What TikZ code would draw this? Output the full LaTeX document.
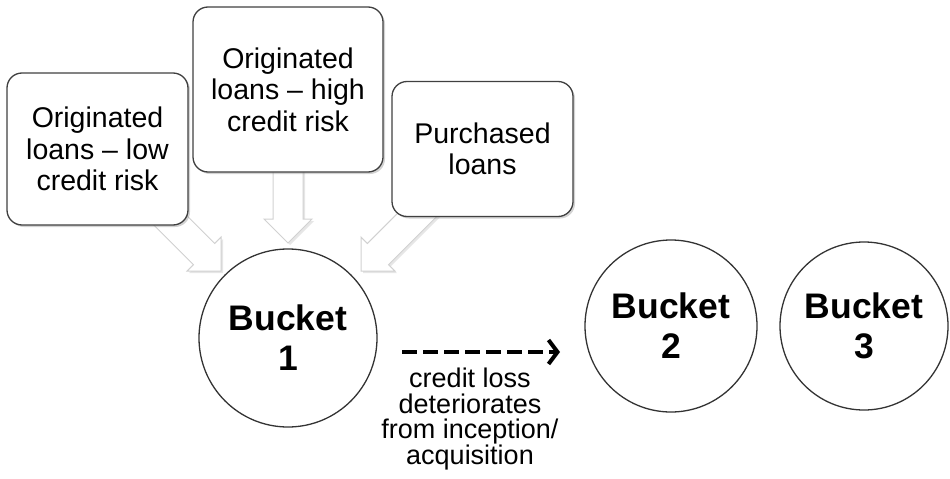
\documentclass[tikz,border=0pt]{standalone}
\usepackage{fontspec}
\setmainfont{Liberation Sans}
\usetikzlibrary{arrows.meta,shadows}
\tikzset{
  loanbox/.style={draw=black!75, line width=1.3pt, rounded corners=15pt, fill=white,
    align=center, inner sep=0pt, font=\fontsize{28.5}{31.5}\selectfont,
    drop shadow={opacity=0.35, shadow xshift=2pt, shadow yshift=-2pt}},
  bucket/.style={circle, draw=black!80, line width=1.3pt, fill=white, align=center,
    inner sep=0pt, font=\fontsize{35.5}{40}\selectfont\bfseries},
  blockarr/.style={draw=black!18, line width=1pt, fill=white, line join=miter,
    drop shadow={opacity=0.2, shadow xshift=2pt, shadow yshift=-2pt}},
  dasharrow/.style={line width=4pt, dash pattern=on 15pt off 6pt,
    -{Straight Barb[length=9pt,width=24pt,line width=4pt]}},
  note/.style={align=center, inner sep=0pt, font=\fontsize{27}{25.5}\selectfont}
}
% block arrow: #1 tip, #2 angle, #3 length
\newcommand\blockarrow[3]{%
  \draw[blockarr, shift={#1}, rotate=#2]
    (0,0) -- (-24,24) -- (-24,15) -- (-#3,15) -- (-#3,-15) -- (-24,-15) -- (-24,-24) -- cycle;}
\begin{document}
\begin{tikzpicture}[x=1pt,y=-1pt]
\useasboundingbox (0,0) rectangle (950,479);
% block arrows (drawn first, boxes cover their tails)
\coordinate (tipL) at (221,271);
\coordinate (tipM) at (288,243);
\coordinate (tipR) at (361,271);
\blockarrow{(tipL)}{-45}{110}
\blockarrow{(tipM)}{-90}{83}
\blockarrow{(tipR)}{-135}{100}
% loan boxes
\node[loanbox, minimum width=181pt, minimum height=152pt] (low) at (97.5,149)
  {Originated\\loans -- low\\credit risk};
\node[loanbox, minimum width=190pt, minimum height=165pt] (high) at (288,89.5)
  {Originated\\loans -- high\\credit risk};
\node[loanbox, minimum width=181pt, minimum height=135pt] (purch) at (482.5,149)
  {Purchased\\loans};
% buckets
\node[bucket, minimum size=178pt] (b1) at (288,338) {Bucket\\1};
\node[bucket, minimum size=172pt] (b2) at (671,326) {Bucket\\2};
\node[bucket, minimum size=168pt] (b3) at (864,326) {Bucket\\3};
% dashed transition arrow
\coordinate (ds) at (402,352);
\coordinate (de) at (560,352);
\draw[dasharrow] (ds) -- (de);
\node[note, anchor=north] (lbl) at (470,368)
  {credit loss\\deteriorates\\from inception/\\acquisition};
\end{tikzpicture}
\end{document}
